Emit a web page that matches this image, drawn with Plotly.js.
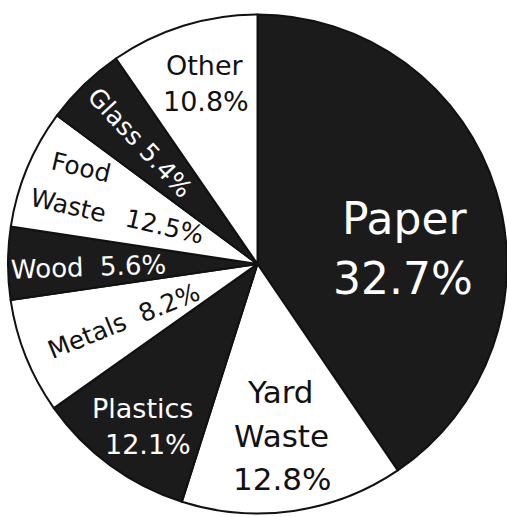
<!DOCTYPE html>
<html>
<head>
<meta charset="utf-8">
<script src="https://cdn.plot.ly/plotly-3.0.1.min.js"></script>
<style>
  html, body { margin: 0; padding: 0; background: #fff; }
  #chart { width: 507px; height: 517px; }
</style>
</head>
<body>
<div id="chart"></div>
<script>
// Categories, clockwise from 12 o'clock
const categories = ["Paper", "Yard Waste", "Plastics", "Metals", "Wood", "Food Waste", "Glass", "Other"];
// Percentages printed on the chart
const percentLabels = [32.7, 12.8, 12.1, 8.2, 5.6, 12.5, 5.4, 10.8];
// Slice sizes as drawn in the picture (share of the circle, %)
const drawnShare = [40.5, 14.4, 10.3, 7.5, 4.7, 7.75, 5.25, 9.6];
// Slice fills
const sliceFill = ["#1b1b1b", "#ffffff", "#1b1b1b", "#ffffff", "#1b1b1b", "#ffffff", "#1b1b1b", "#ffffff"];

const W = 507, H = 517;
const FONT = "DejaVu Sans";

function pct(i) { return percentLabels[i].toFixed(1) + "%"; }

// label layout: text lines, pixel centre, font size, angle
const labelLayout = [
  { i: 0, lines: [["Paper", 405, 218], [null, 403, 278]], size: 44, angle: 0 },
  { i: 1, lines: [["Yard", 280, 392], ["Waste", 281, 436], [null, 282, 479]], size: 31, angle: 0 },
  { i: 2, lines: [["Plastics", 142, 408], [null, 148, 444]], size: 27, angle: 0 },
  { i: 3, lines: [["Metals  ", 123, 321, true]], size: 25, angle: -22 },
  { i: 4, lines: [["Wood  ", 88, 267, true]], size: 26, angle: -2 },
  { i: 5, lines: [["Food", 81, 168], ["Waste", 68, 205], [null, 164, 226]], size: 25, angle: 13 },
  { i: 6, lines: [["Glass ", 140, 142, true]], size: 25, angle: 47 },
  { i: 7, lines: [["Other", 205, 65], [null, 206, 102]], size: 27, angle: 0 }
];

const annotations = [];
labelLayout.forEach(function (L) {
  const color = sliceFill[L.i] === "#ffffff" ? "#111111" : "#ffffff";
  L.lines.forEach(function (ln) {
    let txt;
    if (ln[0] === null) txt = pct(L.i);
    else if (ln[3]) txt = ln[0] + pct(L.i);
    else txt = ln[0];
    annotations.push({
      xref: "paper", yref: "paper",
      x: ln[1] / W, y: 1 - ln[2] / H,
      xanchor: "center", yanchor: "middle",
      text: txt, showarrow: false,
      textangle: L.angle,
      font: { family: FONT, size: L.size, color: color }
    });
  });
});

const trace = {
  type: "pie",
  labels: categories,
  values: drawnShare,
  sort: false,
  direction: "clockwise",
  rotation: 0,
  textinfo: "none",
  hoverinfo: "label",
  marker: { colors: sliceFill, line: { color: "#111111", width: 2 } },
  domain: { x: [8 / W, 1], y: [1 - 514 / H, 1 - 14 / H] },
  showlegend: false
};

const layout = {
  width: W, height: H,
  margin: { l: 0, r: 0, t: 0, b: 0, pad: 0 },
  paper_bgcolor: "#ffffff",
  showlegend: false,
  annotations: annotations,
  font: { family: FONT }
};

Plotly.newPlot("chart", [trace], layout, { displayModeBar: false, staticPlot: true });
</script>
</body>
</html>
